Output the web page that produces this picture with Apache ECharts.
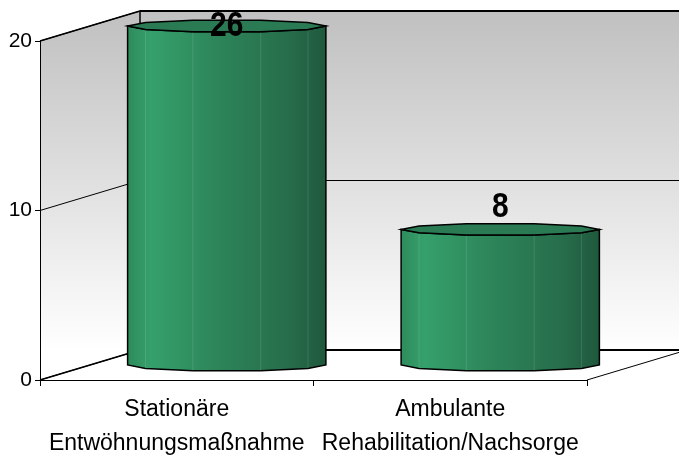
<!DOCTYPE html>
<html>
<head>
<meta charset="utf-8">
<script src="https://cdn.jsdelivr.net/npm/echarts@6/dist/echarts.min.js"></script>
<style>
html, body { margin: 0; padding: 0; background: #fff; }
#chart { width: 679px; height: 458px; }
</style>
</head>
<body>
<div id="chart"></div>
<script>
var categories = ['Stationäre\nEntwöhnungsmaßnahme', 'Ambulante\nRehabilitation/Nachsorge'];
var values = [26, 8];
var yTicks = [0, 10, 20];

var Y_MAX = 20;
// depth of the fake 3d box (back wall is shifted right/up)
var DX = 100, DY = -30;
var FONT = '"Liberation Sans", Arial, sans-serif';

var chart = echarts.init(document.getElementById('chart'));

function line(x1, y1, x2, y2, w) {
    return {
        type: 'line',
        shape: { x1: x1, y1: y1, x2: x2, y2: y2 },
        style: { stroke: '#000', lineWidth: w }
    };
}

function renderWalls(params, api) {
    var sys = params.coordSys;
    var x0 = sys.x, x1 = sys.x + sys.width;
    var yb = api.coord([0, 0])[1];
    var yt = api.coord([0, Y_MAX])[1];
    var grad = new echarts.graphic.LinearGradient(0, yt + DY, 0, yb + DY, [
        { offset: 0, color: '#c0c0c0' },
        { offset: 1, color: '#ffffff' }
    ], true);
    var kids = [
        // back wall
        { type: 'polygon', shape: { points: [[x0 + DX, yt + DY], [x1 + DX, yt + DY], [x1 + DX, yb + DY], [x0 + DX, yb + DY]] },
          style: { fill: grad } },
        // side wall
        { type: 'polygon', shape: { points: [[x0, yt], [x0 + DX, yt + DY], [x0 + DX, yb + DY], [x0, yb]] },
          style: { fill: grad } },
        // floor
        { type: 'polygon', shape: { points: [[x0, yb], [x0 + DX, yb + DY], [x1 + DX, yb + DY], [x1, yb]] },
          style: { fill: '#ffffff' } }
    ];
    yTicks.forEach(function (t) {
        var y = api.coord([0, t])[1];
        kids.push(line(x0 + DX, y + DY, x1 + DX, y + DY, 1));
        kids.push(line(x0, y, x0 + DX, y + DY, 1));
    });
    kids.push(line(x0 + DX, yt + DY, x1 + DX, yt + DY, 2));
    kids.push(line(x0 + DX, yb + DY, x1 + DX, yb + DY, 2));
    kids.push(line(x0 + DX, yt + DY, x0 + DX, yb + DY, 1.5));
    kids.push(line(x0, yt, x0 + DX, yt + DY, 1.5));
    kids.push(line(x0, yb, x0 + DX, yb + DY, 1.5));
    kids.push(line(x1, yb, x1 + DX, yb + DY, 1));
    return { type: 'group', children: kids };
}

function renderBar(params, api) {
    var sys = params.coordSys;
    var idx = api.value(0);
    var raw = api.value(1);
    var v = Math.min(raw, Y_MAX);
    var base = api.coord([idx, 0]);
    var top = api.coord([idx, v]);
    var w = api.size([1, 0])[0] * 0.725;
    var cx = base[0] + DX / 2, rx = w / 2, ry = 6;
    var yb = base[1] + DY / 2, yt = top[1] + DY / 2;

    function pt(a, cy) {
        var r = a * Math.PI / 180;
        return [cx + rx * Math.cos(r), cy + ry * Math.sin(r)];
    }
    var front = [0, 35, 70, 110, 145, 180];
    var ring = [0, 35, 70, 110, 145, 180, 215, 250, 290, 325];

    var body = [];
    front.forEach(function (a) { body.push(pt(a, yt)); });
    front.slice().reverse().forEach(function (a) { body.push(pt(a, yb)); });

    var kids = [{
        type: 'polygon',
        shape: { points: body },
        style: {
            fill: new echarts.graphic.LinearGradient(0, 0, 1, 0, [
                { offset: 0, color: '#2e8a5c' },
                { offset: 0.12, color: '#35a06b' },
                { offset: 0.45, color: '#2d8559' },
                { offset: 0.8, color: '#276e4c' },
                { offset: 1, color: '#1f583c' }
            ]),
            stroke: '#000', lineWidth: 1.5
        }
    }];
    [35, 70, 110, 145].forEach(function (a) {
        var p = pt(a, yt), q = pt(a, yb);
        kids.push({ type: 'line', shape: { x1: p[0], y1: p[1], x2: q[0], y2: q[1] },
            style: { stroke: 'rgba(255,255,255,0.12)', lineWidth: 1 } });
    });
    kids.push({
        type: 'polygon',
        shape: { points: ring.map(function (a) { return pt(a, yt); }) },
        style: { fill: '#2a7b53', stroke: '#000', lineWidth: 1.5 }
    });
    var ly = Math.max(yt - 22, sys.y + DY / 2);
    kids.push({
        type: 'text',
        x: cx, y: ly,
        scaleY: 1.15,
        style: {
            text: String(raw), x: 0, y: 0,
            align: 'center', verticalAlign: 'middle',
            font: 'bold 30px ' + FONT, fill: '#000'
        }
    });
    return { type: 'group', children: kids };
}

var option = {
    animation: false,
    backgroundColor: '#fff',
    grid: { left: 40, top: 41, width: 547, height: 339, outerBoundsMode: 'none' },
    xAxis: {
        type: 'category',
        data: categories,
        axisLine: { lineStyle: { color: '#000', width: 1 } },
        axisTick: { show: true, length: 6, lineStyle: { color: '#000' } },
        axisLabel: {
            interval: 0, color: '#000', fontSize: 23, lineHeight: 34,
            margin: 13, fontFamily: FONT
        }
    },
    yAxis: {
        type: 'value',
        min: 0, max: Y_MAX, interval: 10,
        axisLine: { show: true, lineStyle: { color: '#000', width: 1 } },
        axisTick: { show: true, length: 5, lineStyle: { color: '#000' } },
        axisLabel: { color: '#000', fontSize: 21, margin: 8, fontFamily: FONT },
        splitLine: { show: false }
    },
    series: [{
        type: 'custom',
        renderItem: renderWalls,
        data: [[0, 0]],
        clip: false,
        silent: true,
        z: 0
    }, {
        type: 'custom',
        renderItem: renderBar,
        data: values.map(function (v, i) { return [i, v]; }),
        clip: false,
        z: 2
    }]
};
chart.setOption(option);
</script>
</body>
</html>
